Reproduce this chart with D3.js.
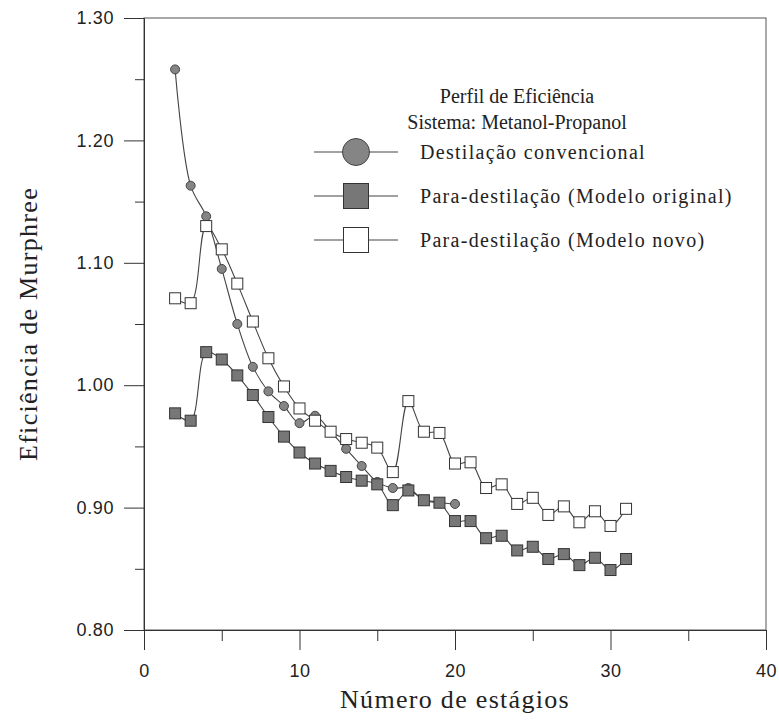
<!DOCTYPE html>
<html>
<head>
<meta charset="utf-8">
<script src="https://cdn.jsdelivr.net/npm/d3@7"></script>
<style>
  body { margin: 0; background: #fff; }
  .tick text { font-family: "Liberation Sans", Arial, sans-serif; font-size: 18px; fill: #222; }
  .serif { font-family: "Liberation Serif", "Times New Roman", serif; fill: #222; }
</style>
</head>
<body>
<svg id="chart" width="779" height="721"></svg>
<script>
// stages (x) for each series
var stages_conv = [2,3,4,5,6,7,8,9,10,11,12,13,14,15,16,17,18,19,20];
var eff_conv = [1.258,1.163,1.138,1.095,1.050,1.015,0.995,0.983,0.969,0.975,0.962,0.948,0.934,0.921,0.916,0.916,0.906,0.904,0.903];

var stages_orig = [2,3,4,5,6,7,8,9,10,11,12,13,14,15,16,17,18,19,20,21,22,23,24,25,26,27,28,29,30,31];
var eff_orig = [0.977,0.971,1.027,1.021,1.008,0.992,0.974,0.958,0.945,0.936,0.930,0.925,0.922,0.919,0.902,0.914,0.906,0.904,0.889,0.889,0.875,0.877,0.865,0.868,0.858,0.862,0.853,0.859,0.849,0.858];

var stages_novo = [2,3,4,5,6,7,8,9,10,11,12,13,14,15,16,17,18,19,20,21,22,23,24,25,26,27,28,29,30,31];
var eff_novo = [1.071,1.067,1.130,1.111,1.083,1.052,1.022,0.999,0.981,0.971,0.962,0.956,0.953,0.949,0.929,0.987,0.962,0.961,0.936,0.937,0.916,0.919,0.903,0.908,0.894,0.901,0.888,0.897,0.885,0.899];

var x_ticks = [0,10,20,30,40];
var x_minor = [5,15,25,35];
var y_ticks = [0.80,0.90,1.00,1.10,1.20,1.30];
var y_minor = [0.85,0.95,1.05,1.15,1.25];

var legend_title = ["Perfil de Eficiência", "Sistema: Metanol-Propanol"];
var legend_names = ["Destilação convencional", "Para-destilação (Modelo original)", "Para-destilação (Modelo novo)"];

const margin = {top: 18, right: 13, bottom: 91, left: 144},
  width = 779 - margin.left - margin.right,
  height = 721 - margin.top - margin.bottom;

const svg = d3.select("#chart")
  .append("g")
  .attr("transform", `translate(${margin.left},${margin.top})`);

const x = d3.scaleLinear().domain([0, 40]).range([0, width]);
const y = d3.scaleLinear().domain([0.80, 1.30]).range([height, 0]);

/** frame */
svg.append("rect")
  .attr("width", width).attr("height", height)
  .attr("fill", "none").attr("stroke", "#555").attr("stroke-width", 1);

/** axes with long major ticks and short minor ticks */
function styleAxis(g) {
  g.select(".domain").attr("stroke", "#333");
  g.selectAll(".tick line").attr("stroke", "#333");
}
svg.append("g").attr("transform", `translate(0,${height})`)
  .call(d3.axisBottom(x).tickValues(x_ticks).tickSize(20).tickPadding(14).tickFormat(d3.format("d")))
  .call(styleAxis);
svg.append("g").attr("transform", `translate(0,${height})`)
  .call(d3.axisBottom(x).tickValues(x_minor).tickSize(11).tickFormat(""))
  .call(styleAxis);
svg.append("g")
  .call(d3.axisLeft(y).tickValues(y_ticks).tickSize(20).tickPadding(10).tickFormat(d3.format(".2f")))
  .call(styleAxis);
svg.append("g")
  .call(d3.axisLeft(y).tickValues(y_minor).tickSize(9).tickFormat(""))
  .call(styleAxis);
svg.selectAll(".tick text").attr("letter-spacing", "0.6px");

/** axis titles */
svg.append("text").attr("class", "serif")
  .attr("x", width / 2).attr("y", height + 78)
  .attr("text-anchor", "middle").attr("font-size", "26px").attr("letter-spacing", "1.3px")
  .text("Número de estágios");
svg.append("text").attr("class", "serif")
  .attr("transform", `translate(${-margin.left + 37},${height / 2}) rotate(-90)`)
  .attr("text-anchor", "middle").attr("font-size", "26px").attr("letter-spacing", "1.3px")
  .text("Eficiência de Murphree");

/** lines */
var series = [
  {xs: stages_conv, ys: eff_conv, mark: "circle"},
  {xs: stages_orig, ys: eff_orig, mark: "filled"},
  {xs: stages_novo, ys: eff_novo, mark: "open"}
];
const line = d3.line().curve(d3.curveCatmullRom.alpha(0.5))
  .x(d => x(d[0])).y(d => y(d[1]));

series.forEach(function(s) {
  var pts = s.xs.map((v, i) => [v, s.ys[i]]);
  svg.append("path").datum(pts)
    .attr("fill", "none").attr("stroke", "#444").attr("stroke-width", 1.1)
    .attr("d", line);
});

function drawMark(g, kind, cx, cy, size) {
  if (kind === "circle") {
    g.append("circle").attr("cx", cx).attr("cy", cy).attr("r", size / 2)
      .attr("fill", "#858585").attr("stroke", "#444").attr("stroke-width", 1);
  } else {
    g.append("rect").attr("x", cx - size / 2).attr("y", cy - size / 2)
      .attr("width", size).attr("height", size)
      .attr("fill", kind === "filled" ? "#777" : "#fff")
      .attr("stroke", "#333").attr("stroke-width", 1);
  }
}

series.forEach(function(s) {
  s.xs.forEach(function(v, i) {
    drawMark(svg, s.mark, x(v), y(s.ys[i]), s.mark === "circle" ? 9 : 11);
  });
});

/** legend */
var lg = svg.append("g");
legend_title.forEach(function(t, i) {
  lg.append("text").attr("class", "serif")
    .attr("x", 373).attr("y", 85 + i * 26)
    .attr("text-anchor", "middle").attr("font-size", "20px")
    .text(t);
});
legend_names.forEach(function(t, i) {
  var ly = 134 + i * 44;
  lg.append("line").attr("x1", 170).attr("x2", 254).attr("y1", ly).attr("y2", ly)
    .attr("stroke", "#444").attr("stroke-width", 1.1);
  drawMark(lg, series[i].mark, 212, ly, series[i].mark === "circle" ? 27 : 25);
  lg.append("text").attr("class", "serif")
    .attr("x", 276).attr("y", ly).attr("dy", "0.35em")
    .attr("font-size", "20px").attr("letter-spacing", "1.3px")
    .text(t);
});
</script>
</body>
</html>
